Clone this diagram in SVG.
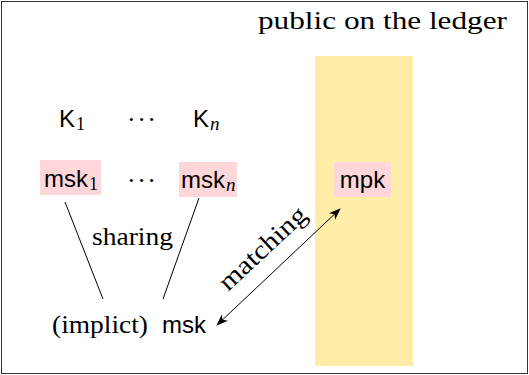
<svg xmlns="http://www.w3.org/2000/svg" width="529" height="375" viewBox="0 0 529 375">
  <style>
    .serif { font-family: "Liberation Serif", "DejaVu Serif", serif; font-size: 26px; fill: #000; }
    .sans { font-family: "Liberation Sans", "DejaVu Sans", sans-serif; font-size: 24px; fill: #000; }
    .sub { font-family: "Liberation Serif", serif; font-size: 18px; }
    .subn { font-family: "Liberation Serif", serif; font-size: 19px; font-style: italic; }
    .dots { font-family: "Liberation Serif", serif; font-size: 26px; fill: #000; }
    .key { fill: #ffd6da; }
    .edge { stroke: #000; stroke-width: 1; fill: none; }
  </style>
  <defs>
    <marker id="arrow" viewBox="0 0 12 10" refX="11" refY="5" markerWidth="12" markerHeight="10" markerUnits="userSpaceOnUse" orient="auto-start-reverse">
      <path d="M0,0.5 L12,5 L0,9.5 L3.5,5 Z" fill="#000"/>
    </marker>
  </defs>

  <rect x="1.5" y="1.5" width="526" height="372" fill="#fff" stroke="#333" stroke-width="1"/>

  <!-- ledger band -->
  <g id="ledger">
    <rect x="315" y="56" width="98" height="310" fill="#ffeda8"/>
    <text class="serif" x="258" y="29" textLength="249" lengthAdjust="spacingAndGlyphs">public on the ledger</text>
  </g>

  <g id="k1">
    <text class="sans" x="59" y="127">K<tspan class="sub" dx="1" dy="3">1</tspan></text>
  </g>
  <g id="kdots">
    <text class="dots" x="127" y="128" textLength="29" lengthAdjust="spacing">···</text>
  </g>
  <g id="kn">
    <text class="sans" x="193" y="127">K<tspan class="subn" dx="1" dy="3">n</tspan></text>
  </g>

  <g id="msk1">
    <rect class="key" x="40" y="160" width="61" height="35"/>
    <text class="sans" x="44" y="187">msk<tspan class="sub" dx="1" dy="3">1</tspan></text>
  </g>
  <g id="mskdots">
    <text class="dots" x="127" y="189" textLength="29" lengthAdjust="spacing">···</text>
  </g>
  <g id="mskn">
    <rect class="key" x="179" y="162" width="58" height="35"/>
    <text class="sans" x="181" y="188">msk<tspan class="subn" dx="1" dy="3">n</tspan></text>
  </g>

  <g id="mpk">
    <rect class="key" x="334" y="162" width="57" height="35"/>
    <text class="sans" x="362.5" y="188" text-anchor="middle">mpk</text>
  </g>

  <g id="msk">
    <text class="serif" x="52" y="333" textLength="96" lengthAdjust="spacingAndGlyphs">(implict)</text>
    <text class="sans" x="162" y="333">msk</text>
  </g>

  <g id="connectors">
    <line class="edge" x1="65" y1="202" x2="103" y2="299"/>
    <line class="edge" x1="199" y1="198" x2="163" y2="299"/>
    <text class="serif" x="92" y="245" textLength="81" lengthAdjust="spacingAndGlyphs">sharing</text>
    <line class="edge" x1="217" y1="325" x2="340" y2="209" marker-start="url(#arrow)" marker-end="url(#arrow)"/>
    <text class="serif" x="228" y="292" textLength="110" lengthAdjust="spacingAndGlyphs" transform="rotate(-43 228 292)">matching</text>
  </g>
</svg>
